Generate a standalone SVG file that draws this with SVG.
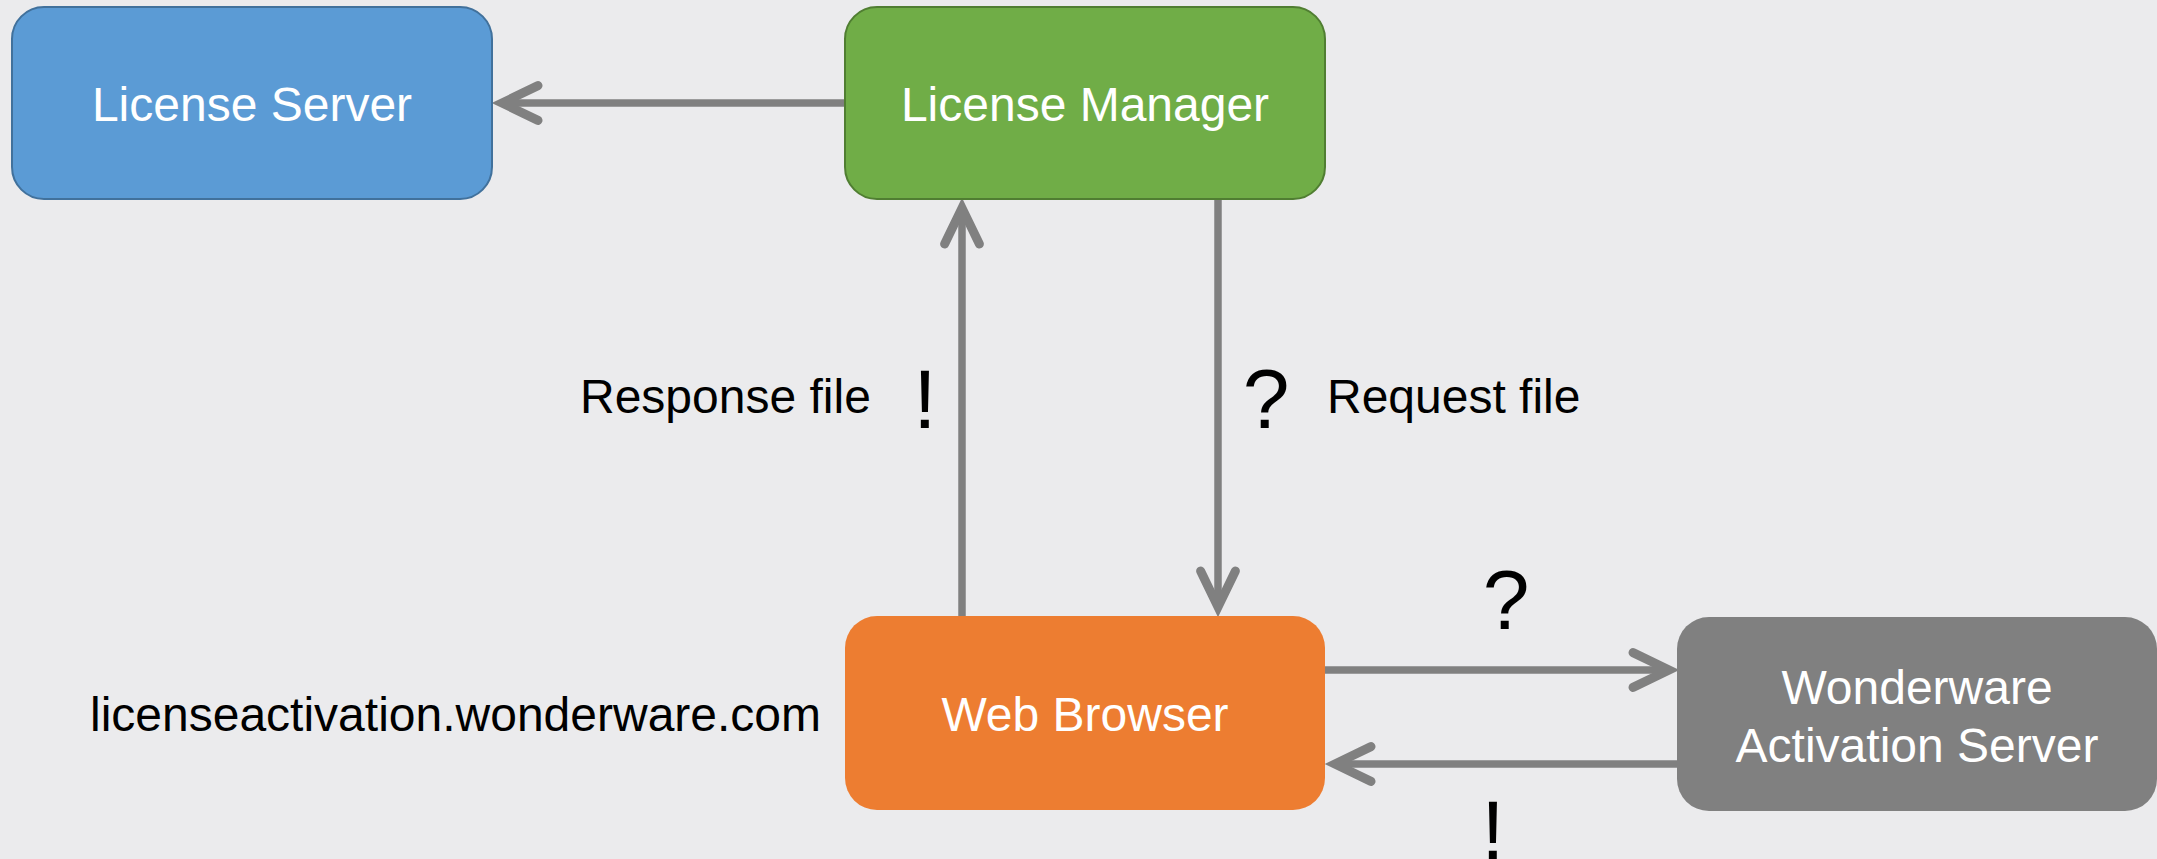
<svg xmlns="http://www.w3.org/2000/svg" width="2157" height="859" viewBox="0 0 2157 859">
<style>
.lbl{font-family:"Liberation Sans",Arial,sans-serif;font-size:48px;fill:#ffffff;text-anchor:middle}
.txt{font-family:"Liberation Sans",Arial,sans-serif;font-size:48px;fill:#000000}
.sym{font-family:"Liberation Sans",Arial,sans-serif;font-size:84px;fill:#000000;text-anchor:middle}
.conn{stroke:#808080;stroke-width:7.5;fill:none}
</style>
<defs>
<marker id="arr" markerUnits="userSpaceOnUse" markerWidth="60" markerHeight="60" viewBox="-40 -25 50 50" refX="0" refY="0" orient="auto" overflow="visible">
<path d="M-30,-14.5 L0,0 L-30,14.5" fill="none" stroke="#808080" stroke-width="7.5" stroke-linecap="round" stroke-linejoin="miter" stroke-miterlimit="10"/>
</marker>
</defs>
<rect width="2157" height="859" fill="#ebebed"/>
<g id="connectors">
<line class="conn" x1="845" y1="103" x2="502" y2="103" marker-end="url(#arr)"/>
<line class="conn" x1="962" y1="616" x2="962" y2="208" marker-end="url(#arr)"/>
<line class="conn" x1="1218" y1="199" x2="1218" y2="607" marker-end="url(#arr)"/>
<line class="conn" x1="1325" y1="670" x2="1669" y2="670" marker-end="url(#arr)"/>
<line class="conn" x1="1677" y1="764" x2="1335" y2="764" marker-end="url(#arr)"/>
</g>
<g id="license-server">
<rect x="12" y="7" width="480" height="192" rx="32" ry="32" fill="#5b9bd5" stroke="#41719c" stroke-width="2"/>
<text class="lbl" x="252" y="121">License Server</text>
</g>
<g id="license-manager">
<rect x="845" y="7" width="480" height="192" rx="32" ry="32" fill="#70ad47" stroke="#507e32" stroke-width="2"/>
<text class="lbl" x="1085" y="121">License Manager</text>
</g>
<g id="web-browser">
<rect x="845" y="616" width="480" height="194" rx="32" ry="32" fill="#ed7d31"/>
<text class="lbl" x="1085" y="731">Web Browser</text>
</g>
<g id="activation-server">
<rect x="1677" y="617" width="480" height="194" rx="32" ry="32" fill="#808080"/>
<text class="lbl" x="1917" y="704">Wonderware</text>
<text class="lbl" x="1917" y="762">Activation Server</text>
</g>
<g id="labels">
<text class="txt" x="580" y="413">Response file</text>
<text class="txt" x="1327" y="413">Request file</text>
<text class="txt" x="90" y="731">licenseactivation.wonderware.com</text>
<text class="sym" x="925" y="428">!</text>
<text class="sym" x="1266" y="428">?</text>
<text class="sym" x="1506" y="629">?</text>
<text class="sym" x="1493" y="859">!</text>
</g>
</svg>
